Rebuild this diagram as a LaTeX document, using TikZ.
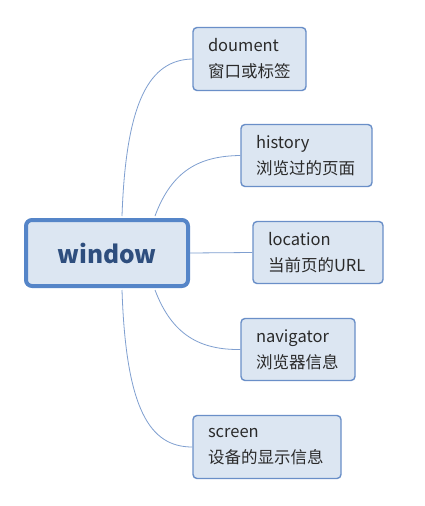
\documentclass[tikz,border=0pt]{standalone}
\usepackage{fontspec}
\setmainfont{Noto Sans CJK SC}
\definecolor{boxfill}{HTML}{DCE6F2}
\definecolor{mainborder}{HTML}{5585C8}
\definecolor{subborder}{HTML}{6A8FC8}
\definecolor{wintext}{HTML}{2E4E7E}
\definecolor{linkcol}{HTML}{7F9FD0}
\definecolor{subtext}{HTML}{2A2A2A}
\begin{document}
\begin{tikzpicture}[x=1pt,y=-1pt,
  mainbox/.style={draw=mainborder, line width=4pt, fill=boxfill, rounded corners=6pt,
    minimum width=162pt, minimum height=66pt, inner sep=0pt,
    font=\fontsize{24.5}{26}\selectfont\bfseries, text=wintext},
  subbox/.style={draw=subborder, line width=1.4pt, fill=boxfill, rounded corners=4pt,
    inner xsep=15pt, inner ysep=0pt, align=left,
    font=\fontsize{16.5}{26}\selectfont, text=subtext},
  link/.style={draw=linkcol, line width=0.8pt}]
\useasboundingbox (0,0) rectangle (425,506);
\fill[white] (0,0) rectangle (425,506);

\node[subbox, text width=83pt, minimum height=63pt] (doc) at (249.5,59) {doument\\窗口或标签};
\node[subbox, text width=101pt, minimum height=62pt] (his) at (306.5,155.5) {history\\浏览过的页面};
\node[subbox, text width=100pt, minimum height=62pt] (loc) at (318,252.5) {location\\当前页的URL};
\node[subbox, text width=84pt, minimum height=62pt] (nav) at (298,349.5) {navigator\\浏览器信息};
\node[subbox, text width=118pt, minimum height=63pt] (scr) at (267,447) {screen\\设备的显示信息};

\coordinate (w1) at (122,216);
\coordinate (w2) at (155,216);
\coordinate (w3) at (155,290);
\coordinate (w4) at (122,290);

\draw[link] (w1) .. controls (126,100) and (150,60) .. (doc.west);
\draw[link] (w2) .. controls (172,170) and (200,156) .. (his.west);
\draw[link] (w3) .. controls (172,335) and (200,350) .. (nav.west);
\draw[link] (w4) .. controls (126,410) and (150,447) .. (scr.west);

\node[mainbox] (win) at (107,253) {window};
\draw[link] (win.east) -- (loc.west);
\end{tikzpicture}
\end{document}
